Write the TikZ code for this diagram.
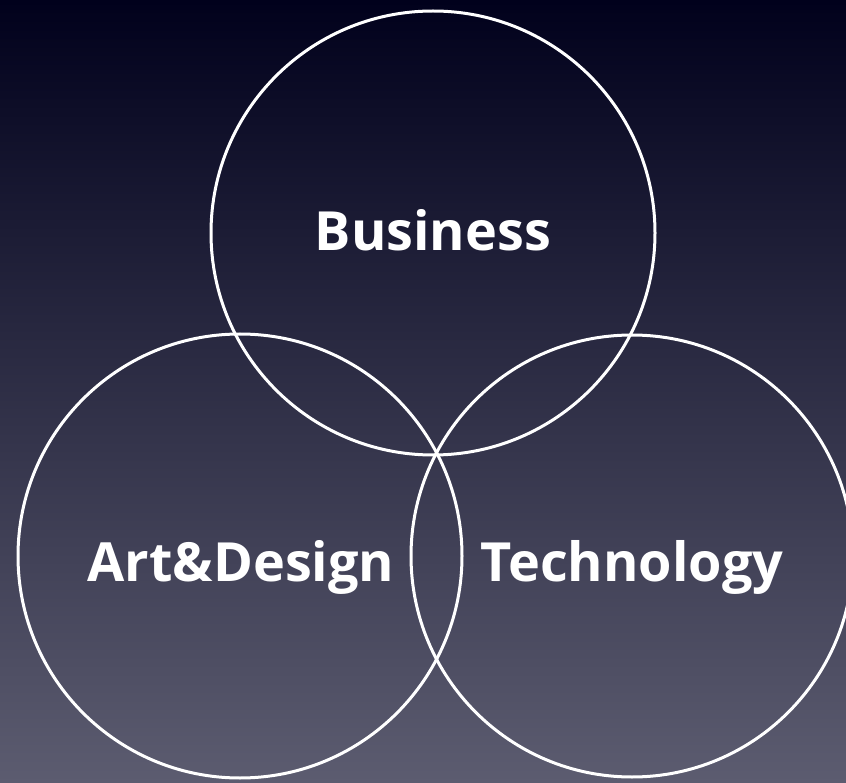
\documentclass[tikz,border=0pt]{standalone}
\usepackage{fontspec}
\setmainfont{Open Sans}
\definecolor{bgtop}{RGB}{1,1,28}
\definecolor{bgbot}{RGB}{92,92,112}
\begin{document}
\begin{tikzpicture}[x=1pt,y=-1pt,
  ring/.style={circle,draw=white,line width=3pt,minimum size=#1,inner sep=0pt},
  label/.style={text=white,font=\bfseries\fontsize{54}{60}\selectfont,anchor=base,inner sep=0pt}]
\useasboundingbox (0,0) rectangle (846,783);
\fill[top color=bgtop,bottom color=bgbot] (0,0) rectangle (846,783);
\node[ring=444pt] (biz) at (433,233) {};
\node[ring=444pt] (art) at (240,556) {};
\node[ring=442pt] (tech) at (632,556) {};
\node[label] (bizt) at (433,251) {Business};
\node[label] (artt) at (241,581) {Art\&Design};
\node[label] (techt) at (632,581) {Technology};
\end{tikzpicture}
\end{document}
